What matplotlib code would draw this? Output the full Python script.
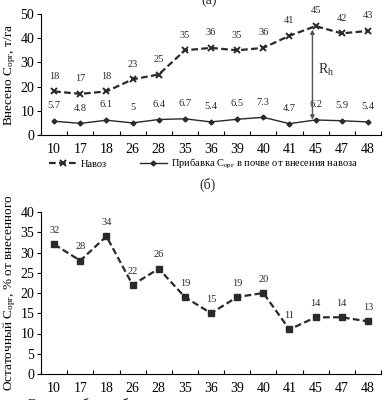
import numpy as np
import matplotlib.pyplot as plt
from matplotlib.ticker import FixedLocator, NullFormatter

plt.rcParams['font.family'] = ['Liberation Serif', 'DejaVu Serif']
plt.rcParams['mathtext.fontset'] = 'custom'
plt.rcParams['mathtext.rm'] = 'Liberation Serif'
plt.rcParams['mathtext.it'] = 'Liberation Serif:italic'

# возраст / категории по оси X
years = ['10', '17', '18', '26', '28', '35', '36', '39', '40', '41', '45', '47', '48']
# (а) внесено навоза, т/га
manure = [18, 17, 18, 23, 25, 35, 36, 35, 36, 41, 45, 42, 43]
# (а) прибавка Сорг в почве
gain = [5.7, 4.8, 6.1, 5, 6.4, 6.7, 5.4, 6.5, 7.3, 4.7, 6.2, 5.9, 5.4]
# (б) остаточный Сорг, % от внесенного
residual = [32, 28, 34, 22, 26, 19, 15, 19, 20, 11, 14, 14, 13]

x = np.arange(len(years))
col = '#2a2a2a'

fig = plt.figure(figsize=(3.84, 4.0), dpi=100)
ax1 = fig.add_axes([0.107, 0.6625, 0.885, 0.3025])
ax2 = fig.add_axes([0.107, 0.065, 0.885, 0.405])


def style(ax):
    ax.spines['top'].set_visible(False)
    ax.spines['right'].set_visible(False)
    ax.set_xlim(-0.5, len(years) - 0.5)
    ax.set_xticks(x)
    ax.set_xticklabels(years, fontsize=10)
    ax.tick_params(axis='x', which='major', length=0, pad=6)
    ax.xaxis.set_minor_locator(FixedLocator(np.arange(len(years) + 1) - 0.5))
    ax.xaxis.set_minor_formatter(NullFormatter())
    ax.tick_params(axis='x', which='minor', direction='in', length=3, width=0.8)
    ax.tick_params(axis='y', labelsize=10, length=3, width=0.8, pad=2)
    for s in ('left', 'bottom'):
        ax.spines[s].set_linewidth(0.8)


# (а)
ax1.plot(x, manure, linestyle=(0, (3, 1.5)), color=col, lw=1.6, marker='x',
         markersize=5, markeredgewidth=1.4, label='Навоз')
ax1.plot(x, gain, linestyle='-', color=col, lw=1.0, marker='D',
         markersize=2.5, label='Прибавка C$_{\\mathrm{орг}}$ в почве от внесения навоза')
for xi, v in zip(x, manure):
    ax1.annotate(f'{v}', (xi, v), textcoords='offset points', xytext=(0, 11),
                 ha='center', va='center', fontsize=7.5, color=col)
for xi, v in zip(x, gain):
    ax1.annotate(f'{v:g}', (xi, v), textcoords='offset points', xytext=(0, 11),
                 ha='center', va='center', fontsize=7.5, color=col)
ax1.annotate('', xy=(9.88, 6.3), xytext=(9.88, 43.6),
             arrowprops=dict(arrowstyle='<|-|>', color='#555555', lw=1.0,
                             mutation_scale=6, shrinkA=0, shrinkB=0))
ax1.text(10.1, 27, 'R$_\\mathrm{h}$', fontsize=10, color=col, va='center')
ax1.set_ylim(0, 50)
ax1.set_yticks([0, 10, 20, 30, 40, 50])
style(ax1)
ax1.set_ylabel('Внесено C$_{\\mathrm{орг}}$, т/га', fontsize=9.5)
ax1.yaxis.set_label_coords(-0.068, 0.5)

fig.legend(loc='center', bbox_to_anchor=(0.53, 0.59), ncol=2, frameon=False,
           fontsize=7.5, handlelength=2.6, columnspacing=3.2, handletextpad=0.4)

# (б)
ax2.plot(x, residual, linestyle=(0, (3, 1.5)), color=col, lw=1.6, marker='s',
         markersize=4)
for xi, v in zip(x, residual):
    ax2.annotate(f'{v}', (xi, v), textcoords='offset points', xytext=(0, 10),
                 ha='center', va='center', fontsize=7.5, color=col)
ax2.set_ylim(0, 40)
ax2.set_yticks(np.arange(0, 41, 5))
style(ax2)
ax2.set_ylabel('Остаточный C$_{\\mathrm{орг}}$, % от внесенного', fontsize=9.5)
ax2.yaxis.set_label_coords(-0.068, 0.5)

fig.text(0.545, 1.0, '(а)', ha='center', va='center', fontsize=10, color=col)
fig.text(0.54, 0.5375, '(б)', ha='center', va='center', fontsize=10, color=col)
fig.text(0.073, -0.012, 'Время работы объекта и возраст навоза на полях, лет',
         ha='left', va='center', fontsize=10, color=col)

fig.savefig('out.png', dpi=100)
